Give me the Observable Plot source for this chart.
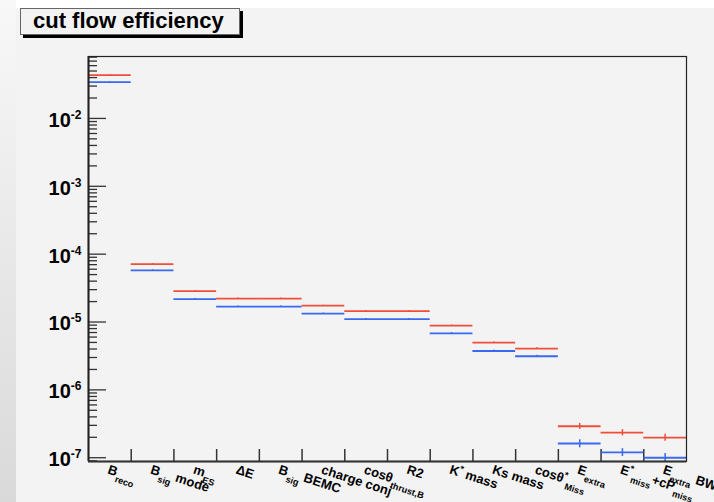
<!DOCTYPE html>
<html>
<head>
<meta charset="utf-8">
<script src="https://cdn.jsdelivr.net/npm/d3@7"></script>
<script src="https://cdn.jsdelivr.net/npm/@observablehq/plot@0.6"></script>
<style>
  html, body { margin: 0; padding: 0; }
  body { width: 714px; height: 502px; overflow: hidden; position: relative; background: #f3f3f3;
         font-family: "Liberation Sans", Arial, Helvetica, sans-serif; }
  #topstrip { position: absolute; left: 0; top: 0; width: 714px; height: 8px; background: #ffffff; }
  #leftstrip { position: absolute; left: 0; top: 0; width: 16px; height: 502px; background: linear-gradient(#f8f8f8, #d9d9d9); }
  #chart { position: absolute; left: 0; top: 0; }
  #title { position: absolute; left: 20px; top: 8px; width: 220px; height: 27px; box-sizing: border-box;
           border: 1px solid #666; box-shadow: 3px 3px 0 #000; background: #f3f3f3;
           font: bold 22px "Liberation Sans", Arial, sans-serif; line-height: 23px; padding-left: 12px; color: #000; }
</style>
</head>
<body>
<div id="topstrip"></div>
<div id="leftstrip"></div>
<div id="chart"></div>
<div id="title">cut flow efficiency</div>
<script>
// ---- data ----
const categories = ["B_{reco}", "B_{sig} mode", "m_{ES}", "ΔE", "B_{sig} BEMC", "charge conj",
  "cosθ_{thrust,B}", "R2", "K^{*} mass", "Ks mass", "cosθ^{*}_{Miss}", "E_{extra}",
  "E^{*}_{miss}+cP_{miss}", "E_{extra} BW"];
const redValues  = [4.35e-2, 7.15e-5, 2.86e-5, 2.21e-5, 2.21e-5, 1.74e-5, 1.45e-5, 1.45e-5, 8.85e-6, 4.97e-6, 4.06e-6, 2.91e-7, 2.35e-7, 1.98e-7];
const redErrors  = [4e-4, 1.2e-6, 5e-7, 4e-7, 4e-7, 3e-7, 2.5e-7, 2.5e-7, 1.8e-7, 1.2e-7, 1.1e-7, 2.9e-8, 2.5e-8, 2.3e-8];
const blueValues = [3.43e-2, 5.77e-5, 2.18e-5, 1.69e-5, 1.69e-5, 1.33e-5, 1.10e-5, 1.10e-5, 6.82e-6, 3.74e-6, 3.13e-6, 1.62e-7, 1.20e-7, 1.0e-7];
const blueErrors = [3.5e-4, 1.1e-6, 4.5e-7, 3.5e-7, 3.5e-7, 2.6e-7, 2.2e-7, 2.2e-7, 1.6e-7, 1.1e-7, 1.0e-7, 2.2e-8, 1.6e-8, 1.5e-8];
const yDomain = [8.8e-8, 0.0818];
const decadeTicks = [1e-7, 1e-6, 1e-5, 1e-4, 1e-3, 1e-2];

// ---- layout ----
const W = 714, H = 502, mL = 88, mR = 28, mT = 56, mB = 41;
const plotW = W - mL - mR, plotH = H - mT - mB;
const RED = "#f04e38", BLUE = "#3a68f0", INK = "#333";

const n = categories.length;
const idx = d3.range(n);
const minorTicks = [];
for (let e = -8; e <= -2; e++) for (let k = 2; k <= 9; k++) {
  const v = k * Math.pow(10, e);
  if (v >= yDomain[0] && v <= yDomain[1]) minorTicks.push(v);
}
const plain = s => s.replace(/[_^]\{([^}]*)\}/g, "$1");

const chart = Plot.plot({
  width: W, height: H,
  marginLeft: mL, marginRight: mR, marginTop: mT, marginBottom: mB,
  style: { background: "transparent", overflow: "visible", fontFamily: "'Liberation Sans', Arial, sans-serif", color: "#000" },
  x: { type: "linear", domain: [0, n], axis: null },
  y: { type: "log", domain: yDomain },
  marks: [
    Plot.tickY(minorTicks, { y: d => d, insetRight: plotW - 9, stroke: INK, strokeWidth: 1.3 }),
    Plot.tickY(decadeTicks, { y: d => d, insetRight: plotW - 18, stroke: INK, strokeWidth: 1.3 }),
    Plot.tickX(d3.range(1, n), { x: d => d, insetTop: plotH - 12, stroke: INK, strokeWidth: 1.5 }),
    Plot.ruleY(idx, { x1: i => i, x2: i => i + 1, y: i => redValues[i], stroke: RED, strokeWidth: 1.8 }),
    Plot.ruleY(idx, { x1: i => i, x2: i => i + 1, y: i => blueValues[i], stroke: BLUE, strokeWidth: 1.8 }),
    Plot.ruleX(idx, { x: i => i + 0.5, y1: i => redValues[i] - redErrors[i], y2: i => redValues[i] + redErrors[i], stroke: RED, strokeWidth: 1.5 }),
    Plot.ruleX(idx, { x: i => i + 0.5, y1: i => blueValues[i] - blueErrors[i], y2: i => blueValues[i] + blueErrors[i], stroke: BLUE, strokeWidth: 1.5 }),
    Plot.frame({ stroke: "#222", strokeWidth: 1.2 }),
    Plot.ruleX([0], { stroke: "#222", strokeWidth: 2 }),
    Plot.ruleY([yDomain[0]], { stroke: "#333", strokeWidth: 2 }),
    Plot.axisY({ ticks: decadeTicks, tickSize: 0, tickPadding: 7, dy: 2,
      tickFormat: d => "10^{" + Math.round(Math.log10(d)) + "}", fontSize: 20, fontWeight: "bold" }),
    Plot.text(idx, { x: i => i + 0.5, frameAnchor: "bottom", text: i => categories[i], rotate: 18,
      textAnchor: "start", lineAnchor: "top", dy: 3, fontSize: 13, fontWeight: "bold", fill: "#000" })
  ]
});

// ---- rich text (sub/superscripts) ----
function richText(el, src, fs, sub, sup, scale) {
  el.textContent = "";
  const re = /([_^])\{([^}]*)\}|([^_^]+)/g;
  let m, cur = 0;
  while ((m = re.exec(src))) {
    const ts = document.createElementNS("http://www.w3.org/2000/svg", "tspan");
    let target, size, txt;
    if (m[3] !== undefined) { target = 0; size = fs; txt = m[3]; }
    else if (m[1] === "_") { target = sub * fs; size = scale * fs; txt = m[2]; }
    else { target = -sup * fs; size = scale * fs; txt = m[2]; }
    ts.textContent = txt;
    ts.setAttribute("dy", (target - cur).toFixed(2));
    ts.setAttribute("font-size", size.toFixed(2));
    cur = target;
    el.appendChild(ts);
  }
}
d3.select(chart).selectAll('g[aria-label="y-axis tick label"] text').each(function () {
  richText(this, this.textContent, 20, 0.35, 0.4, 0.6);
});
d3.select(chart).selectAll('g[aria-label="text"] text').each(function () {
  const src = categories.find(c => plain(c) === this.textContent) || this.textContent;
  richText(this, src, 13, 0.45, 0.4, 0.7);
});

document.getElementById("chart").appendChild(chart);
</script>
</body>
</html>
